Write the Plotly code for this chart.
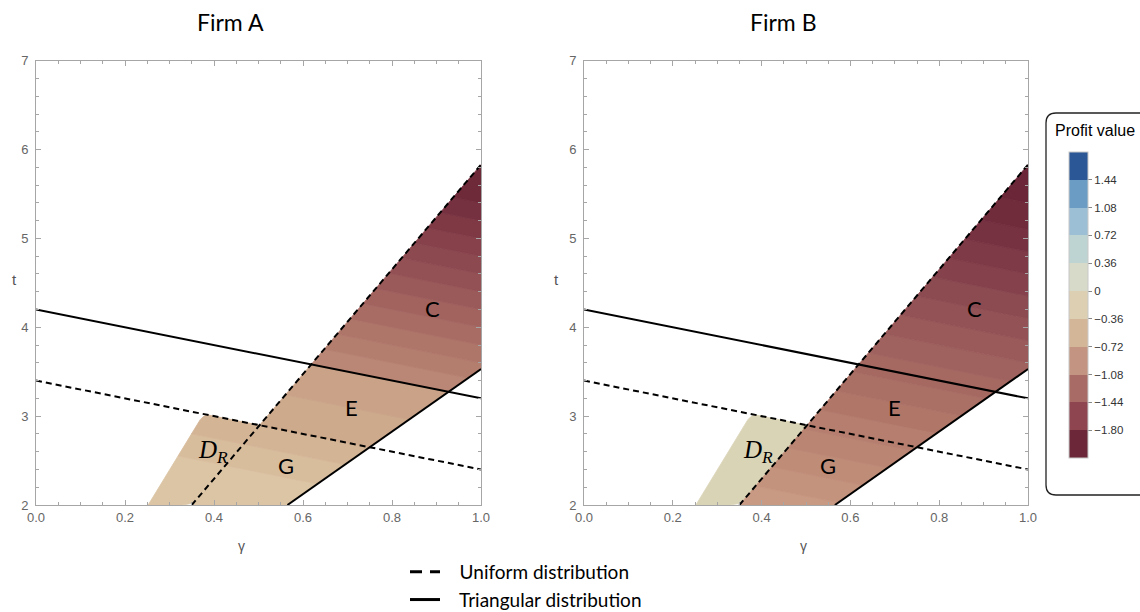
import plotly.graph_objects as go

# ---------------- data ----------------
# threshold lines (t as function of gamma)
uniform_threshold_g = [0.0, 1.0]
uniform_threshold_t = [3.4, 2.4]
triangular_threshold_g = [0.0, 1.0]
triangular_threshold_t = [4.2, 3.2]
# diagonal region boundaries
uniform_boundary_g = [0.35, 1.0]
uniform_boundary_t = [2.0, 5.83]
triangular_boundary_g = [0.565, 1.0]
triangular_boundary_t = [2.0, 3.53]
# left edge of region D_R (with rounded top corner) and its bottom notch
dr_edge_g = [0.252, 0.369, 0.376, 0.385]
dr_edge_t = [2.0, 2.96, 2.995, 3.015]
dr_notch_g = [0.353, 0.329]
dr_notch_t = [2.02, 2.0]

# contour stripes: level of s = gamma + t and fill colours (light -> dark)
A_low_levels = [2.87, 3.15]
A_low_colors = ["#dcc5a5", "#d8bd9d", "#d3b495"]
A_E_levels = [3.8]
A_E_colors = ["#ceaa8d", "#c9a287"]
A_C_levels = [4.4, 4.6, 4.8, 5.0, 5.2, 5.4, 5.6, 5.8, 6.0, 6.2, 6.4]
A_C_colors = ["#ba8675", "#b47e6f", "#ae7569", "#a86c64", "#a2635f", "#9b5a5a",
              "#945155", "#8d4950", "#86414b", "#7e3945", "#763140", "#6e2a39"]
B_DR_color = "#dad4b7"
B_band_levels = [2.6, 2.85, 3.1, 3.35, 3.6, 3.85, 4.1, 4.35, 4.6, 4.85, 5.1,
                 5.35, 5.6, 5.85, 6.1, 6.4]
B_band_colors = ["#c99a83", "#c4937d", "#bf8c78", "#ba8573", "#b57e6e", "#b07769",
                 "#ab7065", "#a66962", "#a0625e", "#9a5a5a", "#935256", "#8c4a51",
                 "#85424c", "#7e3a46", "#773241", "#712c3c", "#6b2737"]

# region labels
A_label_g = [0.89, 0.708, 0.562, 0.398]
A_label_t = [4.21, 3.10, 2.45, 2.60]
B_label_g = [0.88, 0.70, 0.55, 0.392]
B_label_t = [4.21, 3.10, 2.45, 2.60]
region_labels = ["C", "E", "G", "<i>D</i><sub><i>R</i></sub>"]

# colour legend
cbar_colors = ["#6c2838", "#8e4550", "#a96b66", "#c39481", "#d3b597", "#dccfb2",
               "#d7dac8", "#bdd4d2", "#9dbfd6", "#6b9dc4", "#2b5797"]
cbar_min, cbar_max = -2.16, 1.80
cbar_ticks = [-1.80, -1.44, -1.08, -0.72, -0.36, 0.0, 0.36, 0.72, 1.08, 1.44]
cbar_ticktext = ["\u22121.80", "\u22121.44", "\u22121.08", "\u22120.72", "\u22120.36",
                 "0", "0.36", "0.72", "1.08", "1.44"]

W, H = 1140, 612


def px(x):
    return x / W


def py(y):
    return 1 - y / H


def clip(poly, a, b, c):
    """keep part of polygon with a*g + b*t <= c"""
    out = []
    n = len(poly)
    for i in range(n):
        P, Q = poly[i], poly[(i + 1) % n]
        fp = a * P[0] + b * P[1] - c
        fq = a * Q[0] + b * Q[1] - c
        if fp <= 0:
            out.append(P)
        if (fp < 0 < fq) or (fq < 0 < fp):
            r = fp / (fp - fq)
            out.append((P[0] + r * (Q[0] - P[0]), P[1] + r * (Q[1] - P[1])))
    return out


def intersect(g1, t1, g2, t2):
    x1, y1, x2, y2 = g1[0], t1[0], g1[1], t1[1]
    x3, y3, x4, y4 = g2[0], t2[0], g2[1], t2[1]
    den = (x1 - x2) * (y3 - y4) - (y1 - y2) * (x3 - x4)
    a = x1 * y2 - y1 * x2
    b = x3 * y4 - y3 * x4
    return ((a * (x3 - x4) - (x1 - x2) * b) / den, (a * (y3 - y4) - (y1 - y2) * b) / den)


band_poly = [(uniform_boundary_g[0], uniform_boundary_t[0]),
             (uniform_boundary_g[1], uniform_boundary_t[1]),
             (triangular_boundary_g[1], triangular_boundary_t[1]),
             (triangular_boundary_g[0], triangular_boundary_t[0])]
corner = intersect(uniform_threshold_g, uniform_threshold_t, uniform_boundary_g, uniform_boundary_t)
dr_poly = list(zip(dr_edge_g, dr_edge_t)) + [corner] + list(zip(dr_notch_g, dr_notch_t))
s_U = uniform_threshold_t[0]      # gamma + t on the uniform threshold line
s_T = triangular_threshold_t[0]   # gamma + t on the triangular threshold line

fig = go.Figure()


def add_stripes(poly, levels, colors, xa, ya, lo=-1e9, hi=1e9):
    bounds = [lo] + list(levels) + [hi]
    for i, c in enumerate(colors):
        p = clip(poly, 1, 1, bounds[i + 1])
        p = clip(p, -1, -1, -bounds[i])
        if len(p) < 3:
            continue
        xs = [q[0] for q in p] + [p[0][0]]
        ys = [q[1] for q in p] + [p[0][1]]
        fig.add_trace(go.Scatter(x=xs, y=ys, mode="lines", fill="toself", fillcolor=c,
                                 line=dict(color=c, width=0.8), hoverinfo="skip",
                                 showlegend=False, xaxis=xa, yaxis=ya))


# Panel A
add_stripes(dr_poly, A_low_levels, A_low_colors, "x", "y")
add_stripes(band_poly, A_low_levels, A_low_colors, "x", "y", hi=s_U)
add_stripes(band_poly, A_E_levels, A_E_colors, "x", "y", lo=s_U, hi=s_T)
add_stripes(band_poly, A_C_levels, A_C_colors, "x", "y", lo=s_T)
# Panel B
add_stripes(dr_poly, [], [B_DR_color], "x2", "y2")
add_stripes(band_poly, B_band_levels, B_band_colors, "x2", "y2")

for xa, ya in [("x", "y"), ("x2", "y2")]:
    for g, t, dash in [(uniform_threshold_g, uniform_threshold_t, "6px,4px"),
                       (triangular_threshold_g, triangular_threshold_t, "solid"),
                       (uniform_boundary_g, uniform_boundary_t, "6px,4px"),
                       (triangular_boundary_g, triangular_boundary_t, "solid")]:
        fig.add_trace(go.Scatter(x=g, y=t, mode="lines", line=dict(color="black", width=2, dash=dash),
                                 hoverinfo="skip", showlegend=False, xaxis=xa, yaxis=ya))

# legend-only entries
NB = "\u00a0\u00a0\u00a0"
fig.add_trace(go.Scatter(x=[None], y=[None], mode="lines", name=NB + "Uniform distribution",
                         line=dict(color="black", width=3, dash="12px,8px")))
fig.add_trace(go.Scatter(x=[None], y=[None], mode="lines", name=NB + "Triangular distribution",
                         line=dict(color="black", width=3)))

# colour bar carrier
cs = []
n = len(cbar_colors)
for i, c in enumerate(cbar_colors):
    cs.append([i / n, c])
    cs.append([(i + 1) / n, c])
fig.add_trace(go.Scatter(x=[0.5], y=[9], mode="markers", showlegend=False, hoverinfo="skip",
                         marker=dict(color=[0], cmin=cbar_min, cmax=cbar_max, colorscale=cs,
                                     showscale=True, size=1,
                                     colorbar=dict(x=px(1069), xanchor="left", xpad=0, ypad=0,
                                                   thickness=19, thicknessmode="pixels",
                                                   len=306, lenmode="pixels",
                                                   y=py(305), yanchor="middle",
                                                   tickvals=cbar_ticks, ticktext=cbar_ticktext,
                                                   ticks="outside", ticklen=4, tickcolor="#888",
                                                   outlinewidth=1, outlinecolor="#c8c8c8",
                                                   tickfont=dict(family="Liberation Sans", size=11.5, color="#333"))),
                         xaxis="x", yaxis="y"))

axis_common = dict(showgrid=False, zeroline=False, showline=True, linecolor="#a6a6a6", linewidth=1,
                   mirror="allticks", ticks="inside", ticklen=5, tickcolor="#a6a6a6",
                   automargin=False,
                   tickfont=dict(family="Liberation Sans", size=13, color="#666"))
xa_common = dict(axis_common, range=[0, 1], dtick=0.2, tick0=0, tickformat=".1f",
                 minor=dict(dtick=0.05, ticks="inside", ticklen=3, tickcolor="#a6a6a6"))
ya_common = dict(axis_common, range=[2, 7], dtick=1, tick0=2, ticklabelstandoff=4,
                 minor=dict(dtick=0.2, ticks="inside", ticklen=3, tickcolor="#a6a6a6"))

ydom = [py(505), py(60.7)]
fig.update_layout(
    template="none",
    width=W, height=H, margin=dict(l=0, r=0, t=0, b=0, pad=0, autoexpand=False),
    paper_bgcolor="white", plot_bgcolor="white",
    xaxis=dict(xa_common, domain=[px(36), px(481)], anchor="y"),
    yaxis=dict(ya_common, domain=ydom, anchor="x"),
    xaxis2=dict(xa_common, domain=[px(584), px(1028)], anchor="y2"),
    yaxis2=dict(ya_common, domain=ydom, anchor="x2"),
    showlegend=True,
    legend=dict(x=px(405), y=py(553), xanchor="left", yanchor="top", itemwidth=30,
                font=dict(family="Lato", size=19, color="black"), tracegroupgap=0,
                bgcolor="rgba(0,0,0,0)", borderwidth=0),
)


def A(x, y, text, xref="paper", yref="paper", **font):
    return dict(x=x, y=y, xref=xref, yref=yref, text=text, showarrow=False,
                xanchor=font.pop("xanchor", "center"), yanchor="middle", font=font)


ann = []
for g, t, lab in zip(A_label_g, A_label_t, region_labels):
    if "D" in lab:
        ann.append(A(g, t, lab, "x", "y", family="Liberation Serif", size=25, color="black"))
    else:
        ann.append(A(g, t, lab, "x", "y", family="Lato", size=22, color="black"))
for g, t, lab in zip(B_label_g, B_label_t, region_labels):
    if "D" in lab:
        ann.append(A(g, t, lab, "x2", "y2", family="Liberation Serif", size=25, color="black"))
    else:
        ann.append(A(g, t, lab, "x2", "y2", family="Lato", size=22, color="black"))
for txt, xx in [("Firm A", 230), ("Firm B", 783)]:
    ann.append(A(px(xx), py(22), txt, family="Lato", size=23, color="black"))
for xx in [14, 556]:
    ann.append(A(px(xx), py(280), "t", family="Liberation Sans", size=15, color="#555"))
for xx in [241, 803]:
    ann.append(A(px(xx), py(546), "\u03b3", family="Liberation Sans", size=14, color="#555"))
ann.append(A(px(1053), py(130), "Profit value", family="Liberation Sans", size=16,
             color="black", xanchor="left"))
fig.update_layout(annotations=ann)

# rounded legend box
x0, x1 = px(1046), 1.05
yt, yb = py(113), py(495)
rx, ry = 10 / W, 10 / H
path = (f"M {x1},{yt} L {x0 + rx},{yt} Q {x0},{yt} {x0},{yt - ry} L {x0},{yb + ry} "
        f"Q {x0},{yb} {x0 + rx},{yb} L {x1},{yb}")
fig.add_shape(type="path", path=path, xref="paper", yref="paper",
              line=dict(color="#222", width=1.3))

fig.write_html("out.html", config={"displayModeBar": False},
               post_script="document.body.style.margin='0';"
                           "document.documentElement.style.overflow='hidden';")
